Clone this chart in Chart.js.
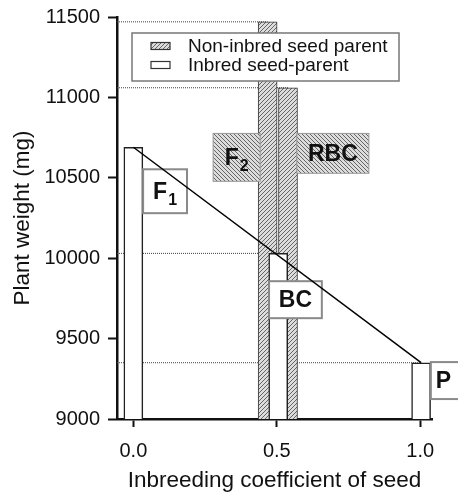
<!DOCTYPE html>
<html>
<head>
<meta charset="utf-8">
<script src="https://cdn.jsdelivr.net/npm/chart.js@4/dist/chart.umd.min.js"></script>
<style>
html, body { margin: 0; padding: 0; background: #fff; }
</style>
</head>
<body>
<canvas id="c" width="458" height="492"></canvas>
<script>
// data
var seriesNames = ['Non-inbred seed parent', 'Inbred seed-parent'];
var nonInbredX = [0.468, 0.539];
var nonInbredWeight = [11470, 11060];
var inbredX = [0.0, 0.505, 1.003];
var inbredWeight = [10690, 10030, 9350];
var xTicks = [0.0, 0.5, 1.0];
var yRange = [9000, 11500];
var xRange = [-0.057, 1.041];

// group labels (F1, F2 ...) placed in data units
var groupLabels = [
    { text: 'F', sub: '1', x: [0.034, 0.187], y: [10280, 10553], hatch: false },
    { text: 'F', sub: '2', x: [0.278, 0.442], y: [10478, 10776], hatch: true },
    { text: 'RBC', sub: '', x: [0.570, 0.821], y: [10528, 10776], hatch: true },
    { text: 'BC', sub: '', x: [0.473, 0.657], y: [9627, 9857], hatch: false },
    { text: 'P', sub: '', x: [1.037, 1.25], y: [9124, 9354], hatch: false }
];

var FONT = "'Liberation Sans', Arial, Helvetica, sans-serif";
var ctx = document.getElementById('c').getContext('2d');

function makeHatch(dir) {
    var c = document.createElement('canvas');
    c.width = 4; c.height = 4;
    var g = c.getContext('2d');
    g.fillStyle = '#dcdcdc';
    g.fillRect(0, 0, 4, 4);
    g.strokeStyle = '#666';
    g.lineWidth = 1;
    g.beginPath();
    if (dir > 0) {
        g.moveTo(0, 4); g.lineTo(4, 0);
        g.moveTo(-1, 1); g.lineTo(1, -1);
        g.moveTo(3, 5); g.lineTo(5, 3);
    } else {
        g.moveTo(0, 0); g.lineTo(4, 4);
        g.moveTo(3, -1); g.lineTo(5, 1);
        g.moveTo(-1, 3); g.lineTo(1, 5);
    }
    g.stroke();
    return ctx.createPattern(c, 'repeat');
}

var hatchBar = makeHatch(1);
var hatchBox = makeHatch(-1);

var datasets = [];

datasets.push({
    type: 'bar',
    label: seriesNames[0],
    data: nonInbredX.map(function (x, i) { return { x: x, y: [yRange[0], nonInbredWeight[i]] }; }),
    backgroundColor: hatchBar,
    borderColor: '#333',
    borderWidth: 1,
    borderSkipped: 'start',
    barThickness: 19,
    grouped: false,
    order: 3
});

datasets.push({
    type: 'bar',
    label: seriesNames[1],
    data: inbredX.map(function (x, i) { return { x: x, y: [yRange[0], inbredWeight[i]] }; }),
    backgroundColor: '#fff',
    borderColor: '#222',
    borderWidth: 1.5,
    borderSkipped: 'start',
    barThickness: 19,
    grouped: false,
    order: 2
});

// line from F1 to P
datasets.push({
    type: 'line',
    label: 'trend',
    data: [
        { x: inbredX[0], y: inbredWeight[0] },
        { x: inbredX[inbredX.length - 1], y: inbredWeight[inbredWeight.length - 1] }
    ],
    borderColor: '#000',
    borderWidth: 1.5,
    pointRadius: 0,
    fill: false,
    order: 1
});

// dotted guide lines from the axis to each bar top
var allX = nonInbredX.concat(inbredX.slice(1));
var allY = nonInbredWeight.concat(inbredWeight.slice(1));
allX.forEach(function (x, i) {
    datasets.push({
        type: 'line',
        label: 'guide',
        data: [{ x: xRange[0], y: allY[i] }, { x: x, y: allY[i] }],
        borderColor: '#444',
        borderWidth: 1,
        borderDash: [1, 1],
        pointRadius: 0,
        fill: false,
        order: 5
    });
});

function drawBox(c, lab, scales) {
    var x0 = scales.x.getPixelForValue(lab.x[0]);
    var x1 = scales.x.getPixelForValue(lab.x[1]);
    var y0 = scales.y.getPixelForValue(lab.y[1]);
    var y1 = scales.y.getPixelForValue(lab.y[0]);
    c.save();
    c.fillStyle = lab.hatch ? hatchBox : '#fff';
    c.fillRect(x0, y0, x1 - x0, y1 - y0);
    c.strokeStyle = lab.hatch ? '#999' : '#8a8a8a';
    c.lineWidth = lab.hatch ? 1 : 2;
    c.strokeRect(x0, y0, x1 - x0, y1 - y0);

    c.fillStyle = '#111';
    c.textBaseline = 'middle';
    c.textAlign = 'left';
    c.font = 'bold 23px ' + FONT;
    var w1 = c.measureText(lab.text).width;
    c.font = 'bold 16px ' + FONT;
    var w2 = lab.sub ? c.measureText(lab.sub).width + 1 : 0;
    var cx = (x0 + x1) / 2;
    if (lab.text === 'P') cx = x0 + 5 + w1 / 2;
    var cy = (y0 + y1) / 2 + 1;
    var tx = cx - (w1 + w2) / 2;
    c.font = 'bold 23px ' + FONT;
    c.fillText(lab.text, tx, cy);
    if (lab.sub) {
        c.font = 'bold 16px ' + FONT;
        c.fillText(lab.sub, tx + w1 + 1, cy + 8);
    }
    c.restore();
}

var annotate = {
    id: 'annotate',
    afterDatasetDraw: function (chart, args) {
        if (args.index !== 1) return;
        groupLabels.forEach(function (lab) { drawBox(chart.ctx, lab, chart.scales); });
    },
    afterDraw: function (chart) {
        var c = chart.ctx;
        var a = chart.chartArea;
        var lx = a.left + 15, ly = a.top + 16, lw = 267, lh = 48;
        c.save();
        c.fillStyle = '#fff';
        c.fillRect(lx, ly, lw, lh);
        c.strokeStyle = '#777';
        c.lineWidth = 1.5;
        c.strokeRect(lx, ly, lw, lh);

        var items = [
            { name: chart.data.datasets[0].label, fill: hatchBar },
            { name: chart.data.datasets[1].label, fill: '#fff' }
        ];
        c.font = '19px ' + FONT;
        c.textBaseline = 'middle';
        items.forEach(function (it, i) {
            var yy = ly + 13 + i * 19;
            c.fillStyle = it.fill;
            c.fillRect(lx + 19, yy - 3.5, 19, 7);
            c.strokeStyle = '#333';
            c.lineWidth = 1.2;
            c.strokeRect(lx + 19, yy - 3.5, 19, 7);
            c.fillStyle = '#111';
            c.fillText(it.name, lx + 56, yy + 1);
        });
        c.restore();
    }
};

new Chart(ctx, {
    type: 'bar',
    data: { datasets: datasets },
    options: {
        responsive: false,
        animation: false,
        layout: { padding: { top: 17, right: 26, left: 0, bottom: 0 } },
        plugins: {
            legend: { display: false },
            tooltip: { enabled: false }
        },
        scales: {
            x: {
                type: 'linear',
                min: xRange[0],
                max: xRange[1],
                offset: false,
                afterBuildTicks: function (scale) {
                    scale.ticks = xTicks.map(function (v) { return { value: v }; });
                },
                afterFit: function (scale) { scale.height = 73; },
                ticks: {
                    color: '#111',
                    font: { family: FONT, size: 20 },
                    padding: 12,
                    maxRotation: 0,
                    autoSkip: false,
                    callback: function (v) { return Number(v).toFixed(1); }
                },
                grid: {
                    display: true,
                    offset: false,
                    drawOnChartArea: false,
                    tickLength: 8,
                    tickColor: '#111',
                    tickWidth: 2
                },
                border: { display: true, color: '#111', width: 2.5 },
                title: {
                    display: true,
                    text: 'Inbreeding coefficient of seed',
                    color: '#111',
                    font: { family: FONT, size: 22.5 },
                    padding: { top: 0, bottom: -2 }
                }
            },
            y: {
                min: yRange[0],
                max: yRange[1],
                afterFit: function (scale) { scale.width = 117; },
                ticks: {
                    stepSize: 500,
                    color: '#111',
                    font: { family: FONT, size: 20, lineHeight: 0.85 },
                    padding: 8,
                    callback: function (v) { return String(v); }
                },
                grid: {
                    display: true,
                    drawOnChartArea: false,
                    tickLength: 9,
                    tickColor: '#111',
                    tickWidth: 2
                },
                border: { display: true, color: '#111', width: 2.5 },
                title: {
                    display: true,
                    text: 'Plant weight (mg)',
                    color: '#111',
                    font: { family: FONT, size: 22.5 },
                    padding: { top: 9, bottom: 0 }
                }
            }
        }
    },
    plugins: [annotate]
});
</script>
</body>
</html>
